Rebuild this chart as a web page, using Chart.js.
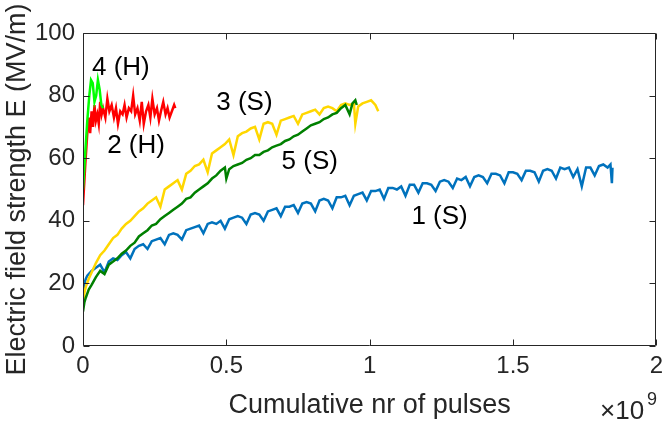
<!DOCTYPE html>
<html>
<head>
<meta charset="utf-8">
<script src="https://cdn.jsdelivr.net/npm/chart.js@4.4.1/dist/chart.umd.min.js"></script>
<style>
  html, body { margin: 0; padding: 0; background: #fff; }
  #myChart { display: block; }
</style>
</head>
<body>
<canvas id="myChart" width="669" height="424"></canvas>
<script>
// tick labels
const xTickValues = [0, 0.5, 1, 1.5, 2];
const yTickValues = [0, 20, 40, 60, 80, 100];

// series 1 (S) - cumulative pulses (x1e9) / field strength (MV/m)
const pulses1 = [0, 0.005, 0.01, 0.015, 0.02, 0.03, 0.045, 0.06, 0.075, 0.09,
  0.105, 0.12, 0.135, 0.15, 0.165, 0.18, 0.195, 0.21, 0.225, 0.24,
  0.255, 0.27, 0.285, 0.3, 0.315, 0.33, 0.345, 0.36, 0.375, 0.39,
  0.405, 0.42, 0.435, 0.45, 0.465, 0.48, 0.495, 0.51, 0.525, 0.54,
  0.555, 0.57, 0.585, 0.6, 0.615, 0.63, 0.645, 0.66, 0.675, 0.69,
  0.705, 0.72, 0.735, 0.75, 0.765, 0.78, 0.795, 0.81, 0.825, 0.84,
  0.855, 0.87, 0.885, 0.9, 0.915, 0.93, 0.945, 0.96, 0.975, 0.99,
  1.005, 1.02, 1.035, 1.05, 1.065, 1.08, 1.095, 1.11, 1.125, 1.14,
  1.155, 1.17, 1.185, 1.2, 1.215, 1.23, 1.245, 1.26, 1.275, 1.29,
  1.305, 1.32, 1.335, 1.35, 1.365, 1.38, 1.395, 1.41, 1.425, 1.44,
  1.455, 1.47, 1.485, 1.5, 1.515, 1.53, 1.545, 1.56, 1.575, 1.59,
  1.605, 1.62, 1.635, 1.65, 1.665, 1.68, 1.695, 1.71, 1.725, 1.74,
  1.755, 1.77, 1.785, 1.8, 1.815, 1.83, 1.84, 1.845, 1.847];
const field1 = [17, 20, 21.5, 22.5, 23, 24, 25, 26, 23.5, 27,
  28, 27.5, 29, 30, 28, 31, 32, 32.5, 31, 33.5,
  34, 34.5, 32.5, 35.5, 36, 35.5, 34, 37, 37.5, 38,
  38.5, 36, 39, 39.5, 39, 40, 37.5, 40.5, 41, 41.5,
  41, 39, 42, 42.5, 42, 40, 43, 43.5, 44, 41.5,
  44.5, 44.5, 45, 42.5, 45.5, 46, 45.5, 43, 46.5, 47,
  46.5, 44, 47.5, 47.5, 48, 45, 48, 48.5, 49, 46.5,
  49.5, 49.5, 50, 47, 50.5, 50.5, 50, 51, 48, 51.5,
  51.5, 49, 52, 52, 51.5, 49.5, 52.5, 53, 52.5, 50.5,
  53.5, 53, 54, 51, 54, 54.5, 54, 52, 55, 55,
  54.5, 52, 55.5, 55.5, 55, 53, 56, 56, 55.5, 52.5,
  56, 56.5, 56, 53.5, 57, 56.5, 57, 54, 56.5, 51,
  57, 57, 54.5, 57.5, 58, 57, 58, 52, 57];

// series 2 (H)
const pulses2 = [0, 0.008, 0.015, 0.02, 0.025, 0.03, 0.035, 0.04, 0.045, 0.05, 0.055, 0.06, 0.065, 0.07, 0.078, 0.085, 0.092, 0.1,
  0.108, 0.115, 0.122, 0.13, 0.138, 0.145, 0.152, 0.16, 0.168, 0.175, 0.182, 0.19, 0.198, 0.205, 0.212, 0.22, 0.228, 0.235,
  0.242, 0.25, 0.258, 0.265, 0.272, 0.28, 0.288, 0.295, 0.302, 0.31, 0.318, 0.322];
const field2 = [45, 58, 68, 73, 68, 75, 70, 77, 72, 74, 71, 78, 74, 76, 73, 79, 75, 77,
  73, 76, 71, 75, 74, 77, 73, 76, 75, 80, 74, 76, 72, 78, 71, 75, 77, 73,
  79, 74, 76, 72, 75, 78, 74, 76, 73, 75, 77, 76];

// series 3 (S)
const pulses3 = [0, 0.005, 0.01, 0.02, 0.03, 0.045, 0.06, 0.075, 0.09, 0.105,
  0.12, 0.135, 0.15, 0.165, 0.18, 0.195, 0.21, 0.225, 0.24, 0.255,
  0.27, 0.285, 0.3, 0.315, 0.33, 0.345, 0.36, 0.375, 0.39, 0.405,
  0.42, 0.435, 0.45, 0.465, 0.48, 0.495, 0.51, 0.525, 0.54, 0.555,
  0.57, 0.585, 0.6, 0.615, 0.63, 0.645, 0.66, 0.675, 0.69, 0.705,
  0.72, 0.735, 0.75, 0.765, 0.78, 0.795, 0.81, 0.825, 0.84, 0.855,
  0.87, 0.885, 0.9, 0.915, 0.93, 0.945, 0.95, 0.96, 0.975, 0.99, 1.005, 1.02, 1.03];
const field3 = [14, 17, 19, 21.5, 23.5, 26.5, 29, 30.5, 32.5, 34.5,
  35.5, 37.5, 39, 40, 41.5, 43, 44, 45.5, 46.5, 47.5,
  44.5, 50, 51, 52, 53, 50, 55, 56, 57.5, 58,
  59.5, 55.5, 61.5, 62.5, 63.5, 64.5, 66, 61, 67, 68,
  68.5, 69.5, 70, 66, 71, 71.5, 71, 67.5, 72, 72.5,
  73, 73.5, 71, 74, 74.5, 75, 75.5, 74, 76, 76.5,
  76, 75, 77, 77.5, 77, 77.5, 71, 76.5, 77.5, 78, 78.5, 77, 75];

// series 4 (H)
const pulses4 = [0, 0.008, 0.015, 0.022, 0.028, 0.034, 0.04, 0.046, 0.052, 0.058, 0.064, 0.07];
const field4 = [50, 62, 72, 80, 85, 84, 78, 80, 85, 82, 77, 76];

// series 5 (S)
const pulses5 = [0, 0.005, 0.01, 0.02, 0.03, 0.045, 0.06, 0.075, 0.09, 0.105,
  0.12, 0.135, 0.15, 0.165, 0.18, 0.195, 0.21, 0.225, 0.24, 0.255,
  0.27, 0.285, 0.3, 0.315, 0.33, 0.345, 0.36, 0.375, 0.39, 0.405,
  0.42, 0.435, 0.45, 0.465, 0.48, 0.495, 0.5, 0.51, 0.525, 0.54,
  0.555, 0.57, 0.585, 0.6, 0.615, 0.63, 0.645, 0.66, 0.675, 0.69,
  0.705, 0.72, 0.735, 0.75, 0.765, 0.78, 0.795, 0.81, 0.825, 0.84,
  0.855, 0.87, 0.885, 0.9, 0.915, 0.93, 0.94, 0.945, 0.95, 0.955];
const field5 = [11, 14, 15.5, 18, 19.5, 22, 24, 23, 26, 27,
  28, 29.5, 30.5, 32, 33, 35, 36, 37, 38.5, 39,
  40.5, 41.5, 42.5, 43.5, 44.5, 45.5, 47, 47.5, 49, 50,
  51, 52, 53.5, 54.5, 56, 57, 53.5, 56.5, 57.5, 58,
  58.5, 59.5, 60, 61, 61, 62, 62.5, 63.5, 64, 64.5,
  65.5, 66, 67, 67.5, 68.5, 69.5, 70.5, 71, 71.5, 72.5,
  73, 74, 74.5, 76, 77, 74, 77.5, 78, 78.5, 77];

// curve labels
const curveLabels = [
  { text: '4 (H)', x: 0.132, y: 89 },
  { text: '2 (H)', x: 0.185, y: 64 },
  { text: '3 (S)', x: 0.563, y: 77.6 },
  { text: '5 (S)', x: 0.791, y: 58.8 },
  { text: '1 (S)', x: 1.244, y: 41.2 }
];

const toPoints = (xs, ys) => xs.map((x, i) => ({ x: x, y: ys[i] }));

const axisColor = '#262626';
const fontFamily = '"Liberation Sans", Arial, Helvetica, sans-serif';

// MATLAB style box with inward ticks, curve labels and exponent
const boxPlugin = {
    id: 'boxPlugin',
    afterDraw(chart) {
        const c = chart.ctx;
        const a = chart.chartArea;
        const xs = chart.scales.x;
        const ys = chart.scales.y;
        const L = Math.round(a.left) + 0.5, R = Math.round(a.right) - 0.5;
        const T = Math.round(a.top) + 0.5, B = Math.round(a.bottom) - 0.5;
        c.save();
        c.strokeStyle = axisColor;
        c.lineWidth = 1;
        c.beginPath();
        c.rect(L, T, R - L, B - T);
        xTickValues.forEach(v => {
            const px = Math.round(xs.getPixelForValue(v)) + 0.5;
            c.moveTo(px, B); c.lineTo(px, B - 6);
            c.moveTo(px, T); c.lineTo(px, T + 6);
        });
        yTickValues.forEach(v => {
            const py = Math.round(ys.getPixelForValue(v)) + 0.5;
            c.moveTo(L, py); c.lineTo(L + 6, py);
            c.moveTo(R, py); c.lineTo(R - 6, py);
        });
        c.stroke();

        c.fillStyle = '#000';
        c.font = '26px ' + fontFamily;
        c.textAlign = 'center';
        c.textBaseline = 'middle';
        curveLabels.forEach(l => {
            c.fillText(l.text, xs.getPixelForValue(l.x), ys.getPixelForValue(l.y));
        });

        c.fillStyle = axisColor;
        c.textAlign = 'left';
        c.textBaseline = 'alphabetic';
        c.font = '26px ' + fontFamily;
        c.fillText('\u00d710', 600, 419);
        c.font = '18px ' + fontFamily;
        c.fillText('9', 647, 405);
        c.restore();
    }
};

let ctx = document.getElementById('myChart');

new Chart(ctx, {
    type: 'scatter',
    data: {
        datasets: [
            { label: '1 (S)', data: toPoints(pulses1, field1), borderColor: '#0072BD', order: 5 },
            { label: '2 (H)', data: toPoints(pulses2, field2), borderColor: '#FF0000', order: 4 },
            { label: '3 (S)', data: toPoints(pulses3, field3), borderColor: '#FFD700', order: 3 },
            { label: '4 (H)', data: toPoints(pulses4, field4), borderColor: '#00FF00', order: 2 },
            { label: '5 (S)', data: toPoints(pulses5, field5), borderColor: '#008000', order: 1 }
        ].map(d => Object.assign(d, {
            showLine: true,
            pointRadius: 0,
            borderWidth: 2.5,
            tension: 0,
            backgroundColor: d.borderColor
        }))
    },
    options: {
        responsive: false,
        animation: false,
        layout: {
            padding: { top: 33, right: 12, left: 0, bottom: 0 }
        },
        scales: {
            x: {
                type: 'linear',
                min: 0,
                max: 2,
                afterBuildTicks: s => { s.ticks = xTickValues.map(v => ({ value: v })); },
                afterFit: s => { s.height = 78; },
                grid: { display: false, drawTicks: false },
                border: { display: false },
                ticks: {
                    padding: 6,
                    color: axisColor,
                    font: { family: fontFamily, size: 24 },
                    maxRotation: 0,
                    callback: v => String(v)
                },
                title: {
                    display: true,
                    text: 'Cumulative nr of pulses',
                    color: axisColor,
                    font: { family: fontFamily, size: 27 },
                    padding: { top: 0, bottom: 2 }
                }
            },
            y: {
                type: 'linear',
                min: 0,
                max: 100,
                afterBuildTicks: s => { s.ticks = yTickValues.map(v => ({ value: v })); },
                afterFit: s => { s.width = 83; },
                grid: { display: false, drawTicks: false },
                border: { display: false },
                ticks: {
                    padding: 8,
                    color: axisColor,
                    font: { family: fontFamily, size: 24 },
                    callback: v => String(v)
                },
                title: {
                    display: true,
                    text: 'Electric field strength E (MV/m)',
                    color: axisColor,
                    font: { family: fontFamily, size: 27 },
                    padding: { top: 1, bottom: 0 }
                }
            }
        },
        plugins: {
            legend: { display: false },
            tooltip: { enabled: false }
        }
    },
    plugins: [boxPlugin]
});
</script>
</body>
</html>
